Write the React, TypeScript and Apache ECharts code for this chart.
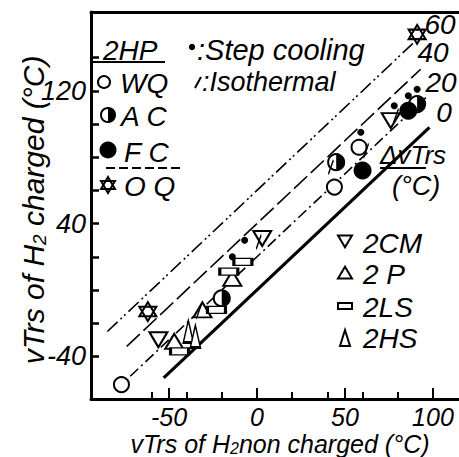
import React, { useEffect, useRef } from "react";
import * as echarts from "echarts";

// ---- data ----
const XMIN = -94.3;
const XMAX = 114.8;
const YMIN = -65.7;
const YMAX = 167.5;

const xMajorTicks = [-50, 0, 50, 100];
const xMinorTicks = [-60, -40, -20, 20, 40, 60, 80];
const xLabels = [-50, 0, 50, 100];
const yTicks = [-40, -20, 0, 20, 40, 60, 80, 100, 120, 140];
const yLabels = [-40, 40, 120];

// 2HP heat treatments
const wqX = [-77, 44, 58];
const wqY = [-57, 62, 86];
const acX = [-20, 45, 91];
const acY = [-5, 77, 112];
const fcX = [60, 86];
const fcY = [72, 108];
const oqX = [-62, 91];
const oqY = [-13, 154];

// other steels
const cmX = [-56, 3, 76];
const cmY = [-30, 31, 102];
const pX = [-47, -31, -14];
const pY = [-31, -12, 7];
const lsX = [-44, -23, -16, -8];
const lsY = [-37, -12, 11, 17];
const hsX = [-39, -35];
const hsY = [-25, -28];

// treatment markers
const stepX = [-14, -7, 59, 78, 86, 91];
const stepY = [20, 30, 95, 111, 117, 121];
const isoX = [1, -33, 42, 62, 79];
const isoY = [29, -13, 74, 84, 105];

// ΔvTrs reference lines y = x + Δ
const deltas = [0, 20, 40, 60];
const deltaStartX = [-53, -72, -74, -85];
const deltaEndX = [98, 96, 93, 90];

const pairs = (xs: number[], ys: number[]) => xs.map((x, i) => [x, ys[i]]);

const FONT = '"Liberation Sans", "DejaVu Sans", sans-serif';

export default function App() {
  const ref = useRef<HTMLDivElement>(null);
  useEffect(() => {
    if (!ref.current) return;
    const chart = echarts.init(ref.current, undefined, { renderer: "svg" });

    const lineStyles = [
      { type: "solid", width: 3.2 },
      { type: [11, 4, 2, 4], width: 1.6 },
      { type: [18, 5], width: 1.6 },
      { type: [14, 4, 2, 3, 2, 4], width: 1.6 },
    ];

    const lineSeries = deltas.map((d, i) => ({
      type: "line",
      data: [
        [deltaStartX[i], deltaStartX[i] + d],
        [deltaEndX[i], deltaEndX[i] + d],
      ],
      symbol: "none",
      silent: true,
      lineStyle: { color: "#000", ...lineStyles[i] },
      z: 1,
    }));

    const open = { color: "#fff", borderColor: "#000", borderWidth: 2, opacity: 1 };
    const solid = { color: "#000", opacity: 1 };

    const txt = (text: string, x: number, y: number, size = 27, extra: any = {}) => ({
      type: "text",
      x,
      y,
      style: {
        text,
        fill: "#000",
        font: `italic ${size}px ${FONT}`,
        textVerticalAlign: "middle",
        ...extra,
      },
    });

    const line = (x1: number, y1: number, x2: number, y2: number, w = 2, dash?: number[]) => ({
      type: "line",
      shape: { x1, y1, x2, y2 },
      style: { stroke: "#000", lineWidth: w, lineDash: dash },
    });

    const tri = (cx: number, cy: number, s: number, down: boolean) => ({
      type: "polygon",
      shape: {
        points: down
          ? [[cx - s, cy - s * 0.8], [cx + s, cy - s * 0.8], [cx, cy + s * 0.9]]
          : [[cx - s, cy + s * 0.8], [cx + s, cy + s * 0.8], [cx, cy - s * 0.9]],
      },
      style: { fill: "#fff", stroke: "#000", lineWidth: 2 },
    });

    const baseAxisLine = { show: true, onZero: false, lineStyle: { color: "#000", width: 3 } };

    const option: any = {
      animation: false,
      grid: { left: 91, top: 12, right: 0, bottom: 58 },
      xAxis: [
        {
          type: "value",
          min: XMIN,
          max: XMAX,
          position: "bottom",
          axisLine: baseAxisLine,
          axisTick: {
            show: true,
            inside: true,
            length: 11,
            customValues: xMajorTicks,
            lineStyle: { color: "#000", width: 2 },
          },
          axisLabel: {
            customValues: xLabels,
            color: "#000",
            fontSize: 25,
            lineHeight: 21,
            fontStyle: "italic",
            fontFamily: FONT,
            margin: 7,
          },
          splitLine: { show: false },
        },
        {
          type: "value",
          min: XMIN,
          max: XMAX,
          position: "bottom",
          axisLine: { show: false, onZero: false },
          axisTick: {
            show: true,
            inside: true,
            length: 7,
            customValues: xMinorTicks,
            lineStyle: { color: "#000", width: 2 },
          },
          axisLabel: { show: false },
          splitLine: { show: false },
        },
        {
          type: "value",
          min: XMIN,
          max: XMAX,
          position: "top",
          axisLine: baseAxisLine,
          axisTick: { show: false },
          axisLabel: { show: false },
          splitLine: { show: false },
        },
      ],
      yAxis: {
        type: "value",
        min: YMIN,
        max: YMAX,
        axisLine: baseAxisLine,
        axisTick: {
          show: true,
          inside: true,
          length: 8,
          customValues: yTicks,
          lineStyle: { color: "#000", width: 2.5 },
        },
        axisLabel: {
          customValues: yLabels,
          color: "#000",
          fontSize: 27,
          fontStyle: "italic",
          fontFamily: FONT,
          margin: 5,
        },
        splitLine: { show: false },
      },
      series: [
        ...lineSeries,
        {
          name: "WQ",
          type: "scatter",
          data: pairs(wqX, wqY),
          symbol: "circle",
          symbolSize: 15,
          itemStyle: open,
          z: 3,
        },
        {
          name: "AC",
          type: "scatter",
          data: pairs(acX, acY),
          symbol: "circle",
          symbolSize: 16,
          itemStyle: open,
          z: 3,
        },
        {
          name: "AC half",
          type: "scatter",
          data: pairs(acX, acY),
          symbol: "path://M0,-10 A10,10 0 0,1 0,10 Z",
          symbolKeepAspect: true,
          symbolSize: 16,
          symbolOffset: [4, 0],
          itemStyle: solid,
          z: 4,
        },
        {
          name: "FC",
          type: "scatter",
          data: pairs(fcX, fcY),
          symbol: "circle",
          symbolSize: 18,
          itemStyle: solid,
          z: 3,
        },
        {
          name: "OQ",
          type: "scatter",
          data: pairs(oqX, oqY),
          symbol: "path://M0,-10 L8.66,5 L-8.66,5 Z M0,10 L-8.66,-5 L8.66,-5 Z",
          symbolSize: [17, 19],
          itemStyle: open,
          z: 3,
        },
        {
          name: "2CM",
          type: "scatter",
          data: pairs(cmX, cmY),
          symbol: "triangle",
          symbolRotate: 180,
          symbolSize: [18, 15],
          itemStyle: open,
          z: 3,
        },
        {
          name: "2P",
          type: "scatter",
          data: pairs(pX, pY),
          symbol: "triangle",
          symbolSize: [18, 15],
          itemStyle: open,
          z: 3,
        },
        {
          name: "2LS",
          type: "scatter",
          data: pairs(lsX, lsY),
          symbol: "rect",
          symbolSize: [18, 7],
          itemStyle: open,
          z: 3,
        },
        {
          name: "2HS",
          type: "scatter",
          data: pairs(hsX, hsY),
          symbol: "triangle",
          symbolSize: [10, 22],
          itemStyle: open,
          z: 3,
        },
        {
          name: "Step cooling",
          type: "scatter",
          data: pairs(stepX, stepY),
          symbol: "circle",
          symbolSize: 7,
          itemStyle: solid,
          z: 5,
        },
        {
          name: "Isothermal",
          type: "scatter",
          data: pairs(isoX, isoY),
          symbol: "path://M0,10 L6,-10",
          symbolSize: [5, 14],
          itemStyle: { color: "none", borderColor: "#000", borderWidth: 1.8, opacity: 1 },
          z: 5,
        },
      ],
      graphic: [
        // left legend (2HP heat treatments)
        txt("2HP", 103, 50, 28),
        line(93, 62, 165, 62, 2),
        { type: "circle", shape: { cx: 104, cy: 82, r: 6 }, style: { fill: "#fff", stroke: "#000", lineWidth: 2 } },
        txt("WQ", 120, 83, 28),
        { type: "circle", shape: { cx: 108, cy: 115, r: 7 }, style: { fill: "#fff", stroke: "#000", lineWidth: 2 } },
        { type: "sector", shape: { cx: 108, cy: 115, r: 7.5, r0: 0, startAngle: -Math.PI / 2, endAngle: Math.PI / 2 }, style: { fill: "#000" } },
        txt("A C", 121, 116, 28),
        { type: "circle", shape: { cx: 108, cy: 150, r: 8.5 }, style: { fill: "#000" } },
        txt("F C", 124, 152, 28),
        line(106, 168, 180, 168, 2, [9, 4]),
        {
          type: "polygon",
          shape: { points: [[108, 177], [115, 189], [101, 189]] },
          style: { fill: "none", stroke: "#000", lineWidth: 2 },
        },
        {
          type: "polygon",
          shape: { points: [[108, 193], [115, 181], [101, 181]] },
          style: { fill: "none", stroke: "#000", lineWidth: 2 },
        },
        txt("O Q", 124, 186, 28),
        // treatment legend
        { type: "circle", shape: { cx: 192, cy: 47, r: 3.2 }, style: { fill: "#000" } },
        txt(":Step cooling", 197, 50, 28, { font: `italic 29px ${FONT}` }),
        line(195, 88, 201, 77, 2),
        txt(":Isothermal", 202, 82, 27),
        // ΔvTrs labels
        txt("60", 440, 24, 28, { textAlign: "center" }),
        txt("40", 433, 52, 28, { textAlign: "center" }),
        txt("20", 441, 82, 28, { textAlign: "center" }),
        txt("0", 444, 112, 28, { textAlign: "center" }),
        txt("ΔvTrs", 380, 155, 26),
        line(380, 168, 426, 168, 2),
        txt("(°C)", 392, 186, 27),
        // steel legend
        tri(345, 241, 7, true),
        txt("2CM", 363, 243, 28),
        tri(345, 273, 7, false),
        txt("2 P", 363, 274, 28),
        { type: "rect", shape: { x: 338, y: 303, width: 14, height: 6 }, style: { fill: "#fff", stroke: "#000", lineWidth: 2 } },
        txt("2LS", 363, 307, 28),
        {
          type: "polygon",
          shape: { points: [[340, 346], [350, 346], [345, 330]] },
          style: { fill: "#fff", stroke: "#000", lineWidth: 2 },
        },
        txt("2HS", 363, 338, 28),
        // axis titles
        {
          type: "text",
          x: 33,
          y: 210,
          rotation: Math.PI / 2,
          style: {
            text: "{a|vTrs of H}{s|2}{a| charged (°C)}",
            fill: "#000",
            textAlign: "center",
            textVerticalAlign: "middle",
            rich: {
              a: { fontSize: 30, fontStyle: "italic", fontFamily: FONT, fill: "#000" },
              s: { fontSize: 19, fontStyle: "italic", fontFamily: FONT, fill: "#000", padding: [12, 0, 0, 0] },
            },
          },
        },
        {
          type: "text",
          x: 280,
          y: 444,
          style: {
            text: "{a|vTrs of H}{s|2}{a|non charged (°C)}",
            fill: "#000",
            textAlign: "center",
            textVerticalAlign: "middle",
            rich: {
              a: { fontSize: 25, lineHeight: 24, fontStyle: "italic", fontFamily: FONT, fill: "#000" },
              s: { fontSize: 16, lineHeight: 16, fontStyle: "italic", fontFamily: FONT, fill: "#000", padding: [8, 0, 0, 0] },
            },
          },
        },
      ],
    };

    chart.setOption(option);
    return () => chart.dispose();
  }, []);

  return (
    <div
      ref={ref}
      style={{ position: "fixed", left: 0, top: 0, width: 459, height: 457, background: "#fff" }}
    />
  );
}
